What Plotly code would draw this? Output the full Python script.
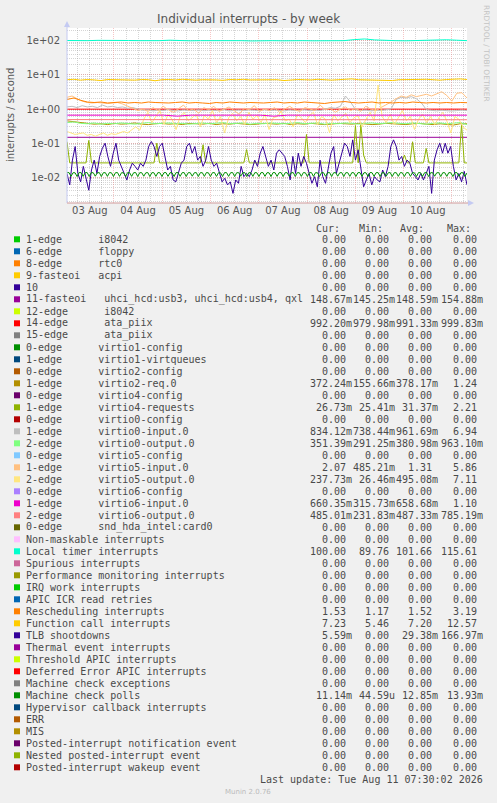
import pandas as pd
import plotly.graph_objects as go

# ---------------- data ----------------
START = "2026-08-03 00:40"
END = "2026-08-11 07:30"

local_timer = [101, 99, 100, 102, 100, 99, 101, 100, 98, 100, 103, 100, 99, 100, 101, 99, 100, 100, 98, 101,
               100, 99, 101, 100, 99, 100, 102, 100, 107, 112, 105, 101, 100, 99, 101, 100, 100, 106, 103, 100]

function_call = [7.2, 7.4, 7.0, 7.3, 7.1, 6.8, 7.3, 7.2, 7.4, 7.1, 7.0, 7.3, 7.2, 6.7, 7.2, 7.3, 7.1, 7.4, 7.2, 7.0,
                 7.2, 7.3, 7.1, 6.9, 7.3, 7.2, 7.4, 7.1, 7.2, 7.0, 7.3, 7.2, 6.8, 7.1, 7.3, 7.2, 7.1, 7.4, 7.2, 7.0,
                 7.2, 7.3, 7.6, 7.2, 7.1, 7.3, 7.2, 7.0, 6.8, 7.2, 7.3, 7.1, 7.2, 7.4, 7.2, 7.0, 7.3, 7.5, 7.6, 7.3]

rescheduling = [1.9, 2.1, 1.8, 1.6, 1.55, 1.6, 1.5, 1.55, 1.6, 1.5, 1.55, 1.5, 1.6, 1.55, 1.5, 1.5, 1.55, 1.6, 1.5, 1.55,
                1.5, 1.45, 1.55, 1.5, 1.6, 1.55, 1.5, 1.55, 1.5, 1.5, 1.55, 1.6, 1.5, 1.55, 1.5, 1.6, 1.55, 1.5, 1.45, 1.55,
                1.6, 1.65, 1.55, 1.5, 1.55, 1.6, 1.5, 1.55, 1.5, 1.55, 1.5, 1.6, 1.55, 1.5, 1.55, 1.5, 1.55, 1.5, 1.55, 1.53]

ata_piix = [0.99, 0.992, 0.99, 0.991, 0.99, 0.992, 0.99, 0.991, 0.99, 0.992]

fasteoi11 = [0.1487, 0.1486, 0.1485, 0.1486, 0.1487, 0.1486, 0.1486, 0.1485, 0.1486, 0.1487]

virtio6_input = [0.66, 0.66, 0.66, 0.65, 0.66, 0.66, 0.66, 0.66, 0.62, 0.66, 0.66, 0.66, 0.66, 0.66, 0.66,
                 0.62, 0.66, 0.66, 0.66, 0.66, 0.66, 0.64, 0.66, 0.66, 0.66, 0.66, 0.66, 0.66, 0.66, 0.66]

virtio6_output = [0.49, 0.487, 0.485, 0.488, 0.487, 0.486, 0.488, 0.487, 0.486, 0.485]

virtio0_output = [0.40, 0.42, 0.38, 0.37, 0.39, 0.36, 0.38, 0.37, 0.39, 0.38, 0.36, 0.38, 0.40, 0.37, 0.38,
                  0.39, 0.37, 0.38, 0.36, 0.38, 0.39, 0.37, 0.38, 0.40, 0.37, 0.38, 0.39, 0.36, 0.38, 0.37,
                  0.39, 0.38, 0.37, 0.38, 0.40, 0.37, 0.38, 0.39, 0.36, 0.38, 0.37, 0.39, 0.38, 0.36, 0.38,
                  0.39, 0.37, 0.38, 0.40, 0.38, 0.37, 0.39, 0.38, 0.36, 0.38, 0.39, 0.37, 0.38, 0.40, 0.35]

virtio2_req = [0.45, 0.43, 0.40, 0.38, 0.36, 0.37, 0.35, 0.38, 0.36, 0.37, 0.39, 0.36, 0.35, 0.37, 0.38,
               0.36, 0.37, 0.35, 0.38, 0.37, 0.36, 0.38, 0.35, 0.37, 0.36, 0.38, 0.37, 0.35, 0.36, 0.38,
               0.37, 0.36, 0.38, 0.35, 0.37, 0.36, 0.38, 0.37, 0.35, 0.36, 0.38, 0.37, 0.36, 0.38, 0.37,
               0.35, 0.36, 0.38, 0.37, 0.36, 0.35, 0.37, 0.38, 0.36, 0.35, 0.37, 0.36, 0.34, 0.37, 0.37]

virtio0_input = [1.15, 1.2, 1.1, 1.25, 1.15, 1.2, 1.1, 1.3, 1.15, 1.2, 1.1, 1.15, 1.05, 1.1, 1.0,
                 0.92, 0.95, 0.88, 0.93, 0.9, 0.97, 0.9, 0.88, 0.94, 0.91, 0.9, 0.95, 0.89, 0.92, 0.93,
                 0.9, 0.96, 0.88, 0.91, 0.93, 0.9, 0.94, 0.92, 0.89, 0.95, 0.9, 0.93, 0.91, 0.88, 0.94,
                 0.9, 0.92, 0.95, 0.89, 0.93, 0.9, 1.0, 1.1, 1.05, 1.2,
                 2.4, 1.6,
                 0.95, 0.9, 0.93, 0.88, 0.92, 0.9, 0.95, 1.0,
                 1.9, 2.2, 2.1, 2.3, 2.0, 1.5,
                 0.95, 0.9, 0.88, 0.92, 0.9, 0.87, 0.9, 0.93, 0.9]

virtio5_input = [2.2, 2.4, 2.0, 1.7, 1.55, 1.5, 1.55, 1.5, 1.45, 1.5, 1.55, 1.4, 1.2, 1.0, 0.9,
                 1.0, 0.85, 1.1, 0.9, 1.2, 0.95, 0.8, 1.05, 1.3, 0.9, 1.0, 0.75, 1.1, 0.95, 1.2,
                 0.85, 1.0, 1.15, 0.9, 0.7, 1.05, 0.95, 1.25, 0.85, 1.0, 0.9, 1.1, 0.8, 1.0, 1.2,
                 0.95, 0.85, 1.1, 1.0, 0.9, 1.3, 0.95, 1.05, 0.8, 1.0, 1.15, 0.9, 1.05, 0.85, 1.2,
                 1.0, 0.9, 1.1, 1.3, 1.6,
                 2.0, 2.4, 2.2, 2.6, 2.3, 2.5, 2.7, 2.4, 2.8, 3.2, 2.5, 1.7, 2.9, 3.0, 2.1]

virtio5_output = [0.22, 0.2, 0.18, 0.19, 0.2, 0.17, 0.18, 0.16, 0.18, 0.2, 0.17, 0.19, 0.18, 0.2, 0.22,
                  0.2, 0.25, 0.3, 0.24,
                  0.5, 0.8, 0.4, 0.6, 0.9, 0.35, 0.7, 0.5, 0.25, 0.6,
                  0.8, 0.45, 0.55, 0.7, 0.3, 0.65, 0.5, 0.9, 0.4, 0.6,
                  0.2, 0.55, 0.75, 0.45, 0.6, 0.35, 0.8, 0.5, 0.65, 0.4,
                  0.7, 0.25, 0.55, 0.6, 0.85, 0.45, 0.5, 0.3, 0.7, 0.55,
                  0.4, 0.65, 0.8, 0.35, 0.6, 0.5, 0.2, 0.7, 0.45, 0.6,
                  0.75, 0.4, 0.55, 0.65, 0.3, 0.5, 0.8, 0.45, 5.0, 0.6,
                  0.4, 0.7, 0.35, 0.55, 0.9, 0.45, 0.6, 0.25, 0.5, 0.7,
                  0.4, 0.6, 0.35, 0.55, 0.8, 0.45, 0.2, 0.6, 0.5, 0.3,
                  0.24]

virtio4_requests = [
    0.11, 0.0265, 0.0265, 0.0265, 0.0265, 0.0265, 0.0265, 0.0265, 0.12, 0.0265,
    0.0265, 0.0265, 0.0265, 0.0265, 0.0265, 0.0265, 0.0265, 0.0265, 0.0265, 0.0265,
    0.0265, 0.0265, 0.0265, 0.0265, 0.0265, 0.0265, 0.0265, 0.0265, 0.0265, 0.0265,
    0.0265, 0.0265, 0.0265, 0.1, 0.0265, 0.0265, 0.0265, 0.0265, 0.0265, 0.0265,
    0.0265, 0.0265, 0.0265, 0.0265, 0.0265, 0.0265, 0.0265, 0.0265, 0.0265, 0.0265,
    0.09, 0.0265, 0.0265, 0.0265, 0.0265, 0.0265, 0.0265, 0.0265, 0.0265, 0.0265,
    0.0265, 0.0265, 0.0265, 0.0265, 0.0265, 0.0265, 0.065, 0.0265, 0.0265, 0.0265,
    0.0265, 0.0265, 0.0265, 0.0265, 0.0265, 0.0265, 0.0265, 0.0265, 0.0265, 0.0265,
    0.0265, 0.0265, 0.0265, 0.0265, 0.0265, 0.0265, 0.0265, 0.0265, 0.18, 0.0265,
    0.0265, 0.0265, 0.0265, 0.0265, 0.0265, 0.0265, 0.0265, 0.0265, 0.0265, 0.0265,
    0.0265, 0.0265, 0.0265, 0.0265, 0.0265, 0.0265, 0.33, 0.0265, 0.35, 0.045,
    0.0265, 0.0265, 0.0265, 0.0265, 0.0265, 0.0265, 0.0265, 0.0265, 0.0265, 0.0265,
    0.0265, 0.0265, 0.0265, 0.0265, 0.045, 0.0265, 0.0265, 0.11, 0.0265, 0.0265,
    0.0265, 0.0265, 0.07, 0.0265, 0.0265, 0.0265, 0.0265, 0.0265, 0.0265, 0.0265,
    0.0265, 0.0265, 0.0265, 0.0265, 0.0265, 0.35, 0.0265, 0.0265]

tlb_shootdowns = [
    0.013, 0.006, 0.032, 0.08, 0.013, 0.0074, 0.021, 0.0084, 0.0042, 0.0164,
    0.032, 0.013, 0.041, 0.071, 0.1, 0.041, 0.021, 0.051, 0.1, 0.032,
    0.021, 0.013, 0.0084, 0.0164, 0.026, 0.021, 0.0164, 0.026, 0.021, 0.032,
    0.08, 0.112, 0.08, 0.041, 0.08, 0.1, 0.041, 0.0164, 0.021, 0.0084,
    0.0074, 0.013, 0.026, 0.032, 0.08, 0.1, 0.051, 0.08, 0.032, 0.041,
    0.021, 0.032, 0.08, 0.032, 0.021, 0.026, 0.013, 0.0074, 0.0094, 0.006,
    0.0074, 0.0034, 0.0084, 0.0067, 0.021, 0.0105, 0.013, 0.0105, 0.0164, 0.032,
    0.021, 0.051, 0.08, 0.041, 0.021, 0.032, 0.0164, 0.051, 0.064, 0.051,
    0.041, 0.021, 0.0084, 0.041, 0.013, 0.051, 0.021, 0.041, 0.026, 0.013,
    0.0067, 0.0105, 0.0053, 0.032, 0.0105, 0.0067, 0.021, 0.051, 0.08, 0.013,
    0.026, 0.051, 0.1, 0.08, 0.041, 0.125, 0.032, 0.064, 0.021, 0.0053,
    0.0084, 0.013, 0.006, 0.0105, 0.0084, 0.0074, 0.0164, 0.0105, 0.021, 0.08,
    0.125, 0.08, 0.032, 0.041, 0.021, 0.032, 0.026, 0.013, 0.0105, 0.0084,
    0.013, 0.0084, 0.013, 0.021, 0.0034, 0.032, 0.064, 0.1, 0.051, 0.1,
    0.051, 0.08, 0.021, 0.0084, 0.013, 0.0074, 0.015, 0.006]

mc_polls = [
    0.0137, 0.0138, 0.0107, 0.0137, 0.0136, 0.0106, 0.0138, 0.0137, 0.0107, 0.0137, 0.0138, 0.0106,
    0.0137, 0.0137, 0.0108, 0.0136, 0.0138, 0.0106, 0.0137, 0.0137, 0.0107, 0.0138, 0.0136, 0.0106,
    0.0137, 0.0138, 0.0107, 0.0137, 0.0136, 0.0106, 0.0138, 0.0137, 0.0107, 0.0137, 0.0138, 0.0106,
    0.0137, 0.0137, 0.0108, 0.0136, 0.0138, 0.0106, 0.0137, 0.0137, 0.0107, 0.0138, 0.0136, 0.0106,
    0.0137, 0.0138, 0.0107, 0.0137, 0.0136, 0.0106, 0.0138, 0.0137, 0.0107, 0.0137, 0.0138, 0.0106,
    0.0137, 0.0137, 0.0108, 0.0136, 0.0138, 0.0106, 0.0137, 0.0137, 0.0107, 0.0138, 0.0136, 0.0106,
    0.0137, 0.0138, 0.0107, 0.0137, 0.0136, 0.0106, 0.0138, 0.0137, 0.0107, 0.0137, 0.0138, 0.0106,
    0.0137, 0.0137, 0.0108, 0.0136, 0.0138, 0.0106, 0.0137, 0.0137, 0.0107, 0.0138, 0.0136, 0.0106,
    0.0137, 0.0138, 0.0107, 0.0137, 0.0136, 0.0106, 0.0138, 0.0137, 0.0107, 0.0137, 0.0138, 0.0106,
    0.0137, 0.0137, 0.0108, 0.0136, 0.0138, 0.0106, 0.0137, 0.0137, 0.0107, 0.0138, 0.0136, 0.0106,
    0.0137, 0.0138, 0.0107, 0.0137, 0.0136, 0.0106, 0.0138, 0.0137, 0.0107, 0.0137, 0.0138, 0.0106,
    0.0137, 0.0137, 0.0108, 0.0136, 0.0138, 0.0106, 0.0137, 0.0137, 0.0107, 0.0138, 0.0136, 0.0106,
    0.0137, 0.0138, 0.0107, 0.0137, 0.0136, 0.0106, 0.0138, 0.0137, 0.0107, 0.0137, 0.0138, 0.0106,
    0.0137, 0.0137, 0.0108, 0.0136, 0.0138, 0.0106, 0.0137, 0.0137, 0.0107, 0.0138, 0.0136, 0.0106,
    0.0137, 0.0138, 0.0107, 0.0137, 0.0136, 0.0106, 0.0138, 0.0137, 0.0107, 0.0137, 0.0138, 0.0106,
    0.0137, 0.0137, 0.0108, 0.0136, 0.0138, 0.0106, 0.0137, 0.0137, 0.0107, 0.0138, 0.0136, 0.0106,
    0.0137, 0.0138, 0.0107, 0.0137, 0.0136, 0.0106, 0.0135]

# drawn series in legend (drawing) order: (legend index, values)
plotted = [
    (5, fasteoi11), (7, ata_piix), (12, virtio2_req), (14, virtio4_requests),
    (16, virtio0_input), (17, virtio0_output), (19, virtio5_input), (20, virtio5_output),
    (22, virtio6_input), (23, virtio6_output), (26, local_timer), (31, rescheduling),
    (32, function_call), (33, tlb_shootdowns), (38, mc_polls),
]

legend_labels = [
    "1-edge      i8042", "6-edge      floppy", "8-edge      rtc0", "9-fasteoi   acpi", "10",
    "11-fasteoi   uhci_hcd:usb3, uhci_hcd:usb4, qxl", "12-edge      i8042", "14-edge      ata_piix",
    "15-edge      ata_piix",
    "0-edge      virtio1-config", "1-edge      virtio1-virtqueues", "0-edge      virtio2-config",
    "1-edge      virtio2-req.0", "0-edge      virtio4-config", "1-edge      virtio4-requests",
    "0-edge      virtio0-config", "1-edge      virtio0-input.0", "2-edge      virtio0-output.0",
    "0-edge      virtio5-config", "1-edge      virtio5-input.0", "2-edge      virtio5-output.0",
    "0-edge      virtio6-config", "1-edge      virtio6-input.0", "2-edge      virtio6-output.0",
    "0-edge      snd_hda_intel:card0",
    "Non-maskable interrupts", "Local timer interrupts", "Spurious interrupts",
    "Performance monitoring interrupts", "IRQ work interrupts", "APIC ICR read retries",
    "Rescheduling interrupts", "Function call interrupts", "TLB shootdowns",
    "Thermal event interrupts", "Threshold APIC interrupts", "Deferred Error APIC interrupts",
    "Machine check exceptions", "Machine check polls", "Hypervisor callback interrupts",
    "ERR", "MIS", "Posted-interrupt notification event", "Nested posted-interrupt event",
    "Posted-interrupt wakeup event",
]

Z = ("0.00", "0.00", "0.00", "0.00")
legend_stats = [
    Z, Z, Z, Z, Z,
    ("148.67m", "145.25m", "148.59m", "154.88m"), Z,
    ("992.20m", "979.98m", "991.33m", "999.83m"), Z,
    Z, Z, Z, ("372.24m", "155.66m", "378.17m", "1.24"), Z,
    ("26.73m", "25.41m", "31.37m", "2.21"), Z,
    ("834.12m", "738.44m", "961.69m", "6.94"), ("351.39m", "291.25m", "380.98m", "963.10m"), Z,
    ("2.07", "485.21m", "1.31", "5.86"), ("237.73m", "26.46m", "495.08m", "7.11"), Z,
    ("660.35m", "315.73m", "658.68m", "1.10"), ("485.01m", "231.83m", "487.33m", "785.19m"), Z,
    Z, ("100.00", "89.76", "101.66", "115.61"), Z, Z, Z, Z,
    ("1.53", "1.17", "1.52", "3.19"), ("7.23", "5.46", "7.20", "12.57"),
    ("5.59m", "0.00", "29.38m", "166.97m"), Z, Z, Z, Z,
    ("11.14m", "44.59u", "12.85m", "13.93m"), Z, Z, Z, Z, Z, Z,
]

stat_headers = ["Cur:", "Min:", "Avg:", "Max:"]
y_tickvals = [0.01, 0.1, 1, 10, 100]
y_ticktext = ["1e-02", "1e-01", "1e+00", "1e+01", "1e+02"]

# ---------------- style ----------------
PALETTE = ["#00CC00", "#0066B3", "#FF8000", "#FFCC00", "#330099", "#990099", "#CCFF00", "#FF0000",
           "#808080", "#008F00", "#00487D", "#B35A00", "#B38F00", "#6B006B", "#8FB300", "#B30000",
           "#BEBEBE", "#80FF80", "#80C9FF", "#FFC080", "#FFE680", "#AA80FF", "#EE00CC", "#FF8080",
           "#666600", "#FFBFFF", "#00FFCC", "#CC6699", "#999900"]

FIG_W, FIG_H = 497, 803
L, T, W, H = 67, 28, 400, 175
MONO = "DejaVu Sans Mono"
SANS = "DejaVu Sans"
TXT = "#4a4a4a"
MAJOR = "rgba(235,120,120,0.42)"
MINOR = "rgba(150,150,150,0.40)"
AXIS_BLUE = "#C4CAF2"


def px(x):
    return (x - L) / W


def py(y):
    return (T + H - y) / H


fig = go.Figure()
for idx, vals in plotted:
    times = pd.date_range(START, END, periods=len(vals))
    fig.add_trace(go.Scatter(x=times, y=vals, mode="lines",
                             line=dict(color=PALETTE[idx % len(PALETTE)], width=1),
                             hoverinfo="skip"))

fig.update_layout(
    width=FIG_W, height=FIG_H, autosize=False,
    margin=dict(l=L, r=FIG_W - L - W, t=T, b=FIG_H - T - H, pad=0, autoexpand=False),
    paper_bgcolor="#F0F0F0", plot_bgcolor="#FFFFFF",
    showlegend=False, hovermode=False,
    font=dict(family=SANS, color=TXT),
)

fig.update_xaxes(
    type="date", range=[START, END], automargin=False,
    tick0="2026-08-03", dtick=86400000, tickformat="%d %b", ticklabelmode="period",
    showgrid=True, gridcolor=MAJOR, griddash="1px,1px", gridwidth=1,
    minor=dict(dtick=6 * 3600000, showgrid=True, gridcolor=MINOR, griddash="1px,1px", gridwidth=1),
    ticks="", showline=False, zeroline=False,
    tickfont=dict(family=SANS, size=10, color="#555555"),
)
fig.update_yaxes(
    type="log", range=[-2.75, 2.37], automargin=False,
    tickmode="array", tickvals=y_tickvals, ticktext=y_ticktext,
    showgrid=True, gridcolor=MAJOR, griddash="1px,1px", gridwidth=1,
    minor=dict(dtick="D1", showgrid=True, gridcolor=MINOR, griddash="1px,1px", gridwidth=1),
    ticks="", showline=False, zeroline=False, ticklabelstandoff=6,
    tickfont=dict(family=SANS, size=10, color="#555555"),
)

shapes = []
# axis lines + arrows
shapes.append(dict(type="line", xref="paper", yref="paper", x0=px(67), x1=px(67), y0=py(203), y1=py(24),
                   line=dict(color=AXIS_BLUE, width=1)))
shapes.append(dict(type="line", xref="paper", yref="paper", x0=px(67), x1=px(470), y0=py(203), y1=py(203),
                   line=dict(color="#D09A9A", width=1)))
shapes.append(dict(type="path", xref="paper", yref="paper",
                   path=f"M {px(64)} {py(27)} L {px(67)} {py(21)} L {px(70)} {py(27)} Z",
                   fillcolor=AXIS_BLUE, line=dict(width=0)))
shapes.append(dict(type="path", xref="paper", yref="paper",
                   path=f"M {px(468)} {py(200)} L {px(474)} {py(203)} L {px(468)} {py(206)} Z",
                   fillcolor=AXIS_BLUE, line=dict(width=0)))

annotations = []


def ann(x, y, text, xanchor="left", size=10, family=MONO, color=TXT, angle=0):
    annotations.append(dict(x=px(x), y=py(y), xref="paper", yref="paper", text=text,
                            showarrow=False, xanchor=xanchor, yanchor="middle",
                            font=dict(family=family, size=size, color=color),
                            borderpad=0, borderwidth=0, textangle=angle))


# title, axis title, watermark
ann(248, 19, "Individual interrupts - by week", xanchor="center", size=12, family=SANS, color="#555555")
ann(10, 115, "interrupts / second", xanchor="center", size=10, family=SANS, color="#555555", angle=-90)
ann(487, 53, "RRDTOOL / TOBI OETIKER", xanchor="center", size=7.5, family=SANS, color="#C4C4C4", angle=90)

# legend
ROW0, DY = 239.3, 12.0
head_x = [315.7, 359.3, 400.0, 446.7]
for hx, h in zip(head_x, stat_headers):
    ann(hx, 228.3, h)
val_edges = [351.7, 395.0, 438.3, 482.7]
for i, (label, stats) in enumerate(zip(legend_labels, legend_stats)):
    ry = ROW0 + i * DY
    col = PALETTE[i % len(PALETTE)]
    shapes.append(dict(type="rect", xref="paper", yref="paper",
                       x0=px(14), x1=px(20), y0=py(ry + 3), y1=py(ry - 3),
                       fillcolor=col, line=dict(width=0)))
    ann(26.3, ry, label.replace(" ", "\u00a0"))
    for edge, s in zip(val_edges, stats):
        xe = edge if s[-1].isalpha() else edge - 6.0
        ann(xe, ry, s, xanchor="right")

ann(482.7, 779, "Last update: Tue Aug 11 07:30:02 2026", xanchor="right")
ann(248, 792, "Munin 2.0.76", xanchor="center", size=7, family=SANS, color="#BBBBBB")

fig.update_layout(shapes=shapes, annotations=annotations)
fig.write_html(
    "out.html",
    config={"displayModeBar": False, "staticPlot": True},
    post_script="document.body.style.margin='0';document.body.style.padding='0';"
                "document.body.style.background='#F0F0F0';",
)
